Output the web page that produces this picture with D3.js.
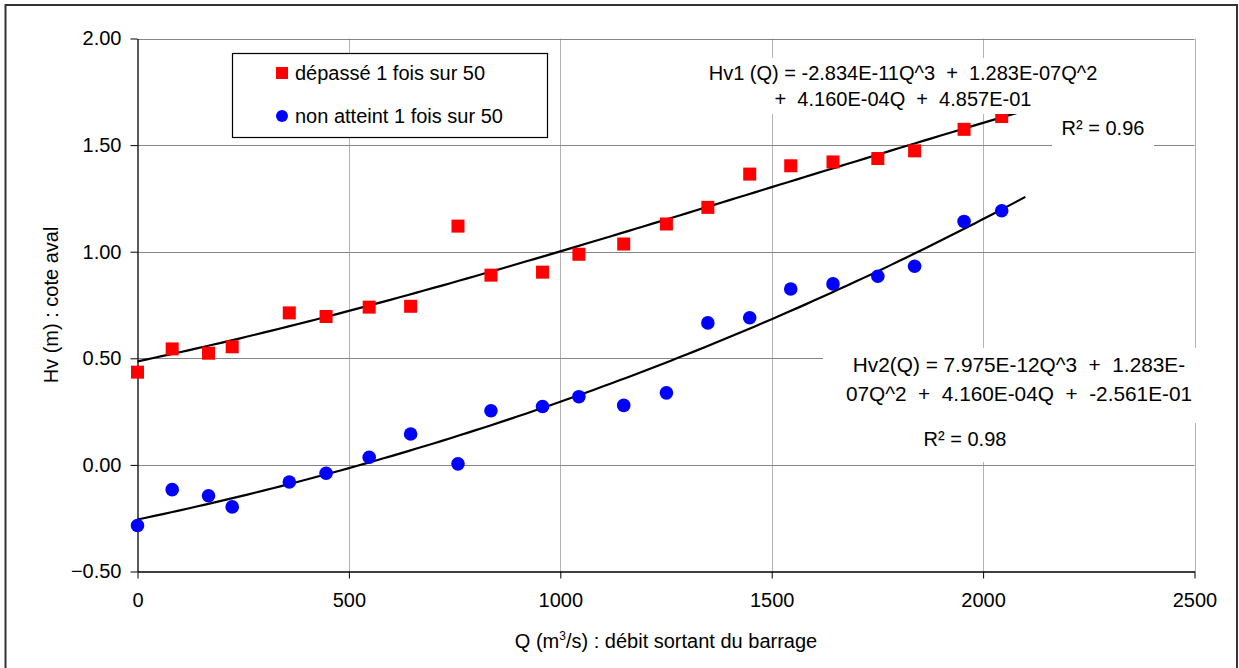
<!DOCTYPE html>
<html>
<head>
<meta charset="utf-8">
<script src="https://cdn.jsdelivr.net/npm/d3@7"></script>
<style>
  body { margin: 0; background: #fff; }
  svg { display: block; font-family: 'Liberation Sans', Arial, sans-serif; }
  text { white-space: pre; }
</style>
</head>
<body>
<div id="chart"></div>
<script>
// Débits sortants (m3/s) et cotes aval observées
const flowQ = [0, 82, 168, 224, 359, 446, 548, 646, 758, 836, 958, 1044, 1150, 1251, 1349, 1448, 1545, 1645, 1751, 1838, 1955, 2044];
const depasse = [0.435, 0.544, 0.524, 0.554, 0.713, 0.696, 0.740, 0.744, 1.12, 0.89, 0.904, 0.988, 1.036, 1.130, 1.208, 1.364, 1.403, 1.421, 1.437, 1.473, 1.574, 1.634];
const nonAtteint = [-0.284, -0.116, -0.145, -0.197, -0.08, -0.039, 0.036, 0.145, 0.005, 0.254, 0.274, 0.320, 0.279, 0.338, 0.666, 0.690, 0.825, 0.849, 0.885, 0.932, 1.142, 1.192];

// polynomial trend coefficients, constant term first
const coefHv1 = [4.857e-1, 4.160e-4, 1.283e-7, -2.834e-11];
const coefHv2 = [-2.561e-1, 4.160e-4, 1.283e-7, 7.975e-12];
const trendEnd = 2100;

const xTicks = [0, 500, 1000, 1500, 2000, 2500];
const yTicks = [-0.5, 0, 0.5, 1.0, 1.5, 2.0];

const seriesNames = ['dépassé 1 fois sur 50', 'non atteint 1 fois sur 50'];
const eqHv1 = ['Hv1 (Q) = -2.834E-11Q^3  +  1.283E-07Q^2', '+  4.160E-04Q  +  4.857E-01'];
const eqHv2 = ['Hv2(Q) = 7.975E-12Q^3  +  1.283E-', '07Q^2  +  4.160E-04Q  +  -2.561E-01'];

const width = 1239, height = 668;
const margin = {top: 38.5, right: 44, bottom: 96, left: 137.5};
const fontSize = 20;

const styles = {
  hgrid: {stroke: '#868686', 'stroke-width': 1},
  vgrid: {stroke: '#b4b4b4', 'stroke-width': 1},
  trend: {stroke: '#000', 'stroke-width': 2.2, fill: 'none'},
  label: {'font-size': fontSize, fill: '#000'}
};

const svg = d3.select('#chart').append('svg')
  .attr('width', width)
  .attr('height', height);

const x = d3.scaleLinear().domain([0, 2500]).range([margin.left, width - margin.right - 0.5]);
const y = d3.scaleLinear().domain([-0.5, 2.0]).range([height - margin.bottom - 0.5, margin.top]);

function applyAttrs(sel, obj){
  Object.entries(obj).forEach(([k, v]) => sel.attr(k, v));
  return sel;
}

// outer frame
svg.append('rect')
  .attr('x', 5.5).attr('y', 5)
  .attr('width', 1231.5).attr('height', 670)
  .attr('fill', 'none').attr('stroke', '#333').attr('stroke-width', 2);

// gridlines
svg.append('g').selectAll('line')
  .data(xTicks.filter(d => d > 0))
  .join('line')
  .attr('x1', d => Math.round(x(d)) + 0.5).attr('x2', d => Math.round(x(d)) + 0.5)
  .attr('y1', y(2.0)).attr('y2', y(-0.5))
  .call(applyAttrs, styles.vgrid);

svg.append('g').selectAll('line')
  .data(yTicks.filter(d => d > -0.5))
  .join('line')
  .attr('x1', x(0)).attr('x2', x(2500))
  .attr('y1', d => Math.round(y(d)) + 0.5).attr('y2', d => Math.round(y(d)) + 0.5)
  .call(applyAttrs, styles.hgrid);

// axes
const yAxis = svg.append('g')
  .attr('transform', `translate(${x(0)},0)`)
  .call(d3.axisLeft(y).tickValues(yTicks).tickFormat(d3.format('.2f')).tickSize(7).tickSizeOuter(0).tickPadding(9));
const xAxis = svg.append('g')
  .attr('transform', `translate(0,${y(-0.5)})`)
  .call(d3.axisBottom(x).tickValues(xTicks).tickFormat(d3.format('d')).tickSize(7).tickSizeOuter(0).tickPadding(14));

[yAxis, xAxis].forEach(ax => {
  ax.select('.domain').attr('stroke', '#000').attr('stroke-width', 1.3);
  ax.selectAll('.tick line').attr('stroke', '#000');
  ax.selectAll('.tick text')
    .attr('font-family', "'Liberation Sans', Arial, sans-serif")
    .attr('font-size', fontSize)
    .attr('fill', '#000');
});

// trend curves
const poly = coef => q => coef.reduce((s, c, i) => s + c * Math.pow(q, i), 0);
const trendQ = d3.range(0, trendEnd + 1, 20);
const line = d3.line().x(d => x(d[0])).y(d => y(d[1]));

[coefHv1, coefHv2].forEach(coef => {
  const f = poly(coef);
  svg.append('path')
    .datum(trendQ.map(q => [q, f(q)]))
    .attr('d', line)
    .call(applyAttrs, styles.trend);
});

// points
const sq = 13;
svg.append('g').selectAll('rect')
  .data(flowQ.map((q, i) => [q, depasse[i]]))
  .join('rect')
  .attr('x', d => x(d[0]) - sq / 2)
  .attr('y', d => y(d[1]) - sq / 2)
  .attr('width', sq).attr('height', sq)
  .attr('fill', '#ff0000');

svg.append('g').selectAll('circle')
  .data(flowQ.map((q, i) => [q, nonAtteint[i]]))
  .join('circle')
  .attr('cx', d => x(d[0]))
  .attr('cy', d => y(d[1]))
  .attr('r', 6.8)
  .attr('fill', '#0000ff');

// equation labels on white boxes
function whiteBox(x0, y0, w, h){
  svg.append('rect').attr('x', x0).attr('y', y0).attr('width', w).attr('height', h).attr('fill', '#fff');
}

function textLines(lines, cx, y0, dy, size){
  const t = svg.append('text')
    .attr('text-anchor', 'middle')
    .call(applyAttrs, styles.label)
    .attr('font-size', size || fontSize);
  lines.forEach((l, i) => {
    t.append('tspan').attr('x', cx).attr('y', y0 + i * dy).text(l);
  });
}

whiteBox(695, 58, 352, 56);
textLines(eqHv1, 903, 80, 26);
whiteBox(1052, 113, 102, 35);
svg.append('text').attr('x', 1103).attr('y', 135).attr('text-anchor', 'middle')
  .call(applyAttrs, styles.label).text('R² = 0.96');

whiteBox(823, 348, 380, 75);
textLines(eqHv2, 1019, 372, 29, 20.8);
whiteBox(905, 423, 100, 39);
svg.append('text').attr('x', 965).attr('y', 446).attr('text-anchor', 'middle')
  .call(applyAttrs, styles.label).text('R² = 0.98');

// legend
const legend = svg.append('g');
legend.append('rect')
  .attr('x', 232.5).attr('y', 53.5).attr('width', 315).attr('height', 84)
  .attr('fill', '#fff').attr('stroke', '#000').attr('stroke-width', 1.2);
legend.append('rect')
  .attr('x', 276).attr('y', 67).attr('width', 12).attr('height', 12)
  .attr('fill', '#ff0000');
legend.append('circle')
  .attr('cx', 282).attr('cy', 116).attr('r', 6)
  .attr('fill', '#0000ff');
legend.selectAll('text.leg')
  .data(seriesNames)
  .join('text')
  .attr('class', 'leg')
  .attr('x', 295)
  .attr('y', (d, i) => 80 + i * 43)
  .call(applyAttrs, styles.label)
  .text(d => d);

// axis titles
svg.append('text')
  .attr('transform', `translate(58,${(y(2) + y(-0.5)) / 2}) rotate(-90)`)
  .attr('text-anchor', 'middle')
  .attr('font-size', 20)
  .text('Hv (m) : cote aval');

const xt = svg.append('text')
  .attr('x', (x(0) + x(2500)) / 2)
  .attr('y', 648)
  .attr('text-anchor', 'middle')
  .attr('font-size', 20);
xt.append('tspan').text('Q (m');
xt.append('tspan').attr('font-size', 12).attr('dy', -8).text('3');
xt.append('tspan').attr('dy', 8).text('/s) : débit sortant du barrage');
</script>
</body>
</html>
